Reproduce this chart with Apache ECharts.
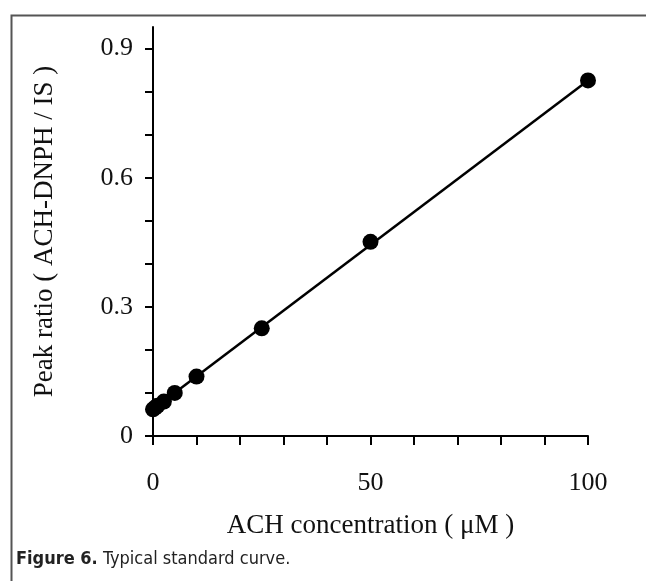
<!DOCTYPE html>
<html>
<head>
<meta charset="utf-8">
<script src="https://cdn.jsdelivr.net/npm/echarts@6/dist/echarts.min.js"></script>
<style>
  html, body { margin: 0; padding: 0; background: #fff; }
  #chart { width: 646px; height: 581px; }
</style>
</head>
<body>
<div id="chart"></div>
<script>
// Data
const concentrations = [0, 0.5, 1, 2.5, 5, 10, 25, 50, 100];          // µM
const peakRatios     = [0.062, 0.066, 0.07, 0.08, 0.10, 0.138, 0.25, 0.451, 0.826];
const fitX = [0, 100];
const fitY = [0.062, 0.826];

const xTickValues  = [0, 10, 20, 30, 40, 50, 60, 70, 80, 90, 100];
const xLabelValues = [0, 50, 100];
const xLabelTexts  = ['0', '50', '100'];
const yTickValues  = [0, 0.1, 0.2, 0.3, 0.4, 0.5, 0.6, 0.7, 0.8, 0.9];
const yLabelValues = [0, 0.3, 0.6, 0.9];
const yLabelTexts  = ['0', '0.3', '0.6', '0.9'];

const xAxisTitle = 'ACH concentration ( \u03bcM )';
const yAxisTitle = 'Peak ratio ( ACH-DNPH / IS )';
const captionBold = 'Figure 6.';
const captionText = ' Typical standard curve.';

const serif = '"Liberation Serif", "Times New Roman", serif';
const sansNarrow = '"Liberation Sans Narrow", "DejaVu Sans Condensed", "Roboto", sans-serif';
const ink = '#111';

function labelFor(values, texts) {
  return function (v) {
    for (let i = 0; i < values.length; i++) {
      if (Math.abs(values[i] - v) < 1e-9) return texts[i];
    }
    return '';
  };
}

const chart = echarts.init(document.getElementById('chart'), null, { renderer: 'canvas' });

chart.setOption({
  backgroundColor: '#fff',
  animation: false,
  grid: { left: 153, right: 58, top: 27, bottom: 145, containLabel: false, outerBoundsMode: 'none' },
  title: {
    left: 11, top: 545,
    text: '{b|' + captionBold + '}{n|' + captionText + '}',
    textStyle: {
      fontWeight: 'normal',
      rich: {
        b: { fontFamily: sansNarrow, fontWeight: 'bold', fontSize: 18, color: '#222' },
        n: { fontFamily: sansNarrow, fontWeight: 'normal', fontSize: 18, color: '#222' }
      }
    }
  },
  graphic: [{
    type: 'rect', left: 9, top: 13, z: -1,
    shape: { width: 700, height: 700 },
    style: { fill: 'none', stroke: '#555', lineWidth: 2 }
  }],
  xAxis: {
    type: 'value', min: 0, max: 100,
    name: xAxisTitle, nameLocation: 'middle', nameGap: 76,
    nameTextStyle: { fontFamily: serif, fontSize: 27, color: ink },
    axisLine: { show: true, onZero: false, lineStyle: { color: '#000', width: 2 } },
    axisTick: { show: true, inside: false, length: 9, customValues: xTickValues, lineStyle: { color: '#000', width: 2 } },
    axisLabel: { customValues: xLabelValues, formatter: labelFor(xLabelValues, xLabelTexts),
                 margin: 34, fontFamily: serif, fontSize: 26, color: ink },
    splitLine: { show: false }
  },
  yAxis: {
    type: 'value', min: 0, max: 0.95,
    name: yAxisTitle, nameLocation: 'middle', nameGap: 95,
    nameTextStyle: { fontFamily: serif, fontSize: 27, color: ink },
    axisLine: { show: true, onZero: false, lineStyle: { color: '#000', width: 2 } },
    axisTick: { show: true, inside: false, length: 8, customValues: yTickValues, lineStyle: { color: '#000', width: 2 } },
    axisLabel: { customValues: yLabelValues, formatter: labelFor(yLabelValues, yLabelTexts),
                 margin: 20, fontFamily: serif, fontSize: 26, color: ink },
    splitLine: { show: false }
  },
  series: [
    {
      type: 'line', data: fitX.map((x, i) => [x, fitY[i]]),
      showSymbol: false, symbol: 'none', z: 2,
      lineStyle: { color: '#000', width: 2.5 }
    },
    {
      type: 'scatter', data: concentrations.map((x, i) => [x, peakRatios[i]]),
      symbol: 'circle', symbolSize: 16, z: 3,
      itemStyle: { color: '#000', opacity: 1 }
    }
  ]
});
</script>
</body>
</html>
